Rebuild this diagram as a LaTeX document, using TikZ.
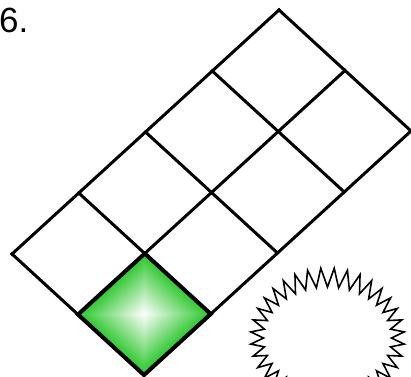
\documentclass[tikz,border=0pt]{standalone}
\usepackage{fontspec}
\setmainfont{Liberation Sans}
\usetikzlibrary{calc}
\definecolor{gcol}{RGB}{45,200,45}
\tikzset{
  gridline/.style={line width=3pt, line join=miter, line cap=rect},
  greenedge/.style={line width=4pt, line join=miter},
  starline/.style={line width=1.6pt, line join=miter},
}
\begin{document}
\begin{tikzpicture}[x=1pt,y=-1pt]
\useasboundingbox (0,0) rectangle (411,376);
\clip (0,0) rectangle (411,376);
\fill[white] (0,0) rectangle (411,376);
% grid corners
\coordinate (A) at (12,254);
\foreach \i in {0,...,4}{
  \foreach \j in {0,...,2}{
    \coordinate (P\i\j) at ({12+66.75*\i+66*\j},{254-61*\i+60.5*\j});
  }
}
% green cell shading (concentric diamonds)
\coordinate (C) at ($(P01)!0.5!(P12)$);
\foreach \k in {0,...,59}{
  \pgfmathsetmacro\s{1-\k/60}
  \pgfmathsetmacro\g{100*\s}
  \fill[gcol!\g!white] ($(C)!\s!(P01)$) -- ($(C)!\s!(P11)$) -- ($(C)!\s!(P12)$) -- ($(C)!\s!(P02)$) -- cycle;
}
% grid lines
\foreach \j in {0,1,2}{ \draw[gridline] (P0\j) -- (P4\j); }
\foreach \i in {0,...,4}{ \draw[gridline] (P\i0) -- (P\i2); }
\draw[greenedge] (P01) -- (P11) -- (P12) -- (P02) -- cycle;
% star
\coordinate (S) at (327.5,338);
\draw[starline] ($(S)+(5:77 and 70)$)
  \foreach \a in {0,...,35}{ -- ($(S)+({10+10*\a}:64 and 51)$) -- ($(S)+({15+10*\a}:77 and 70)$) } -- cycle;
% label
\node[anchor=base west, inner sep=0pt, font=\fontsize{35}{40}\selectfont] (lbl) at (-1,32) {6.};
\end{tikzpicture}
\end{document}
